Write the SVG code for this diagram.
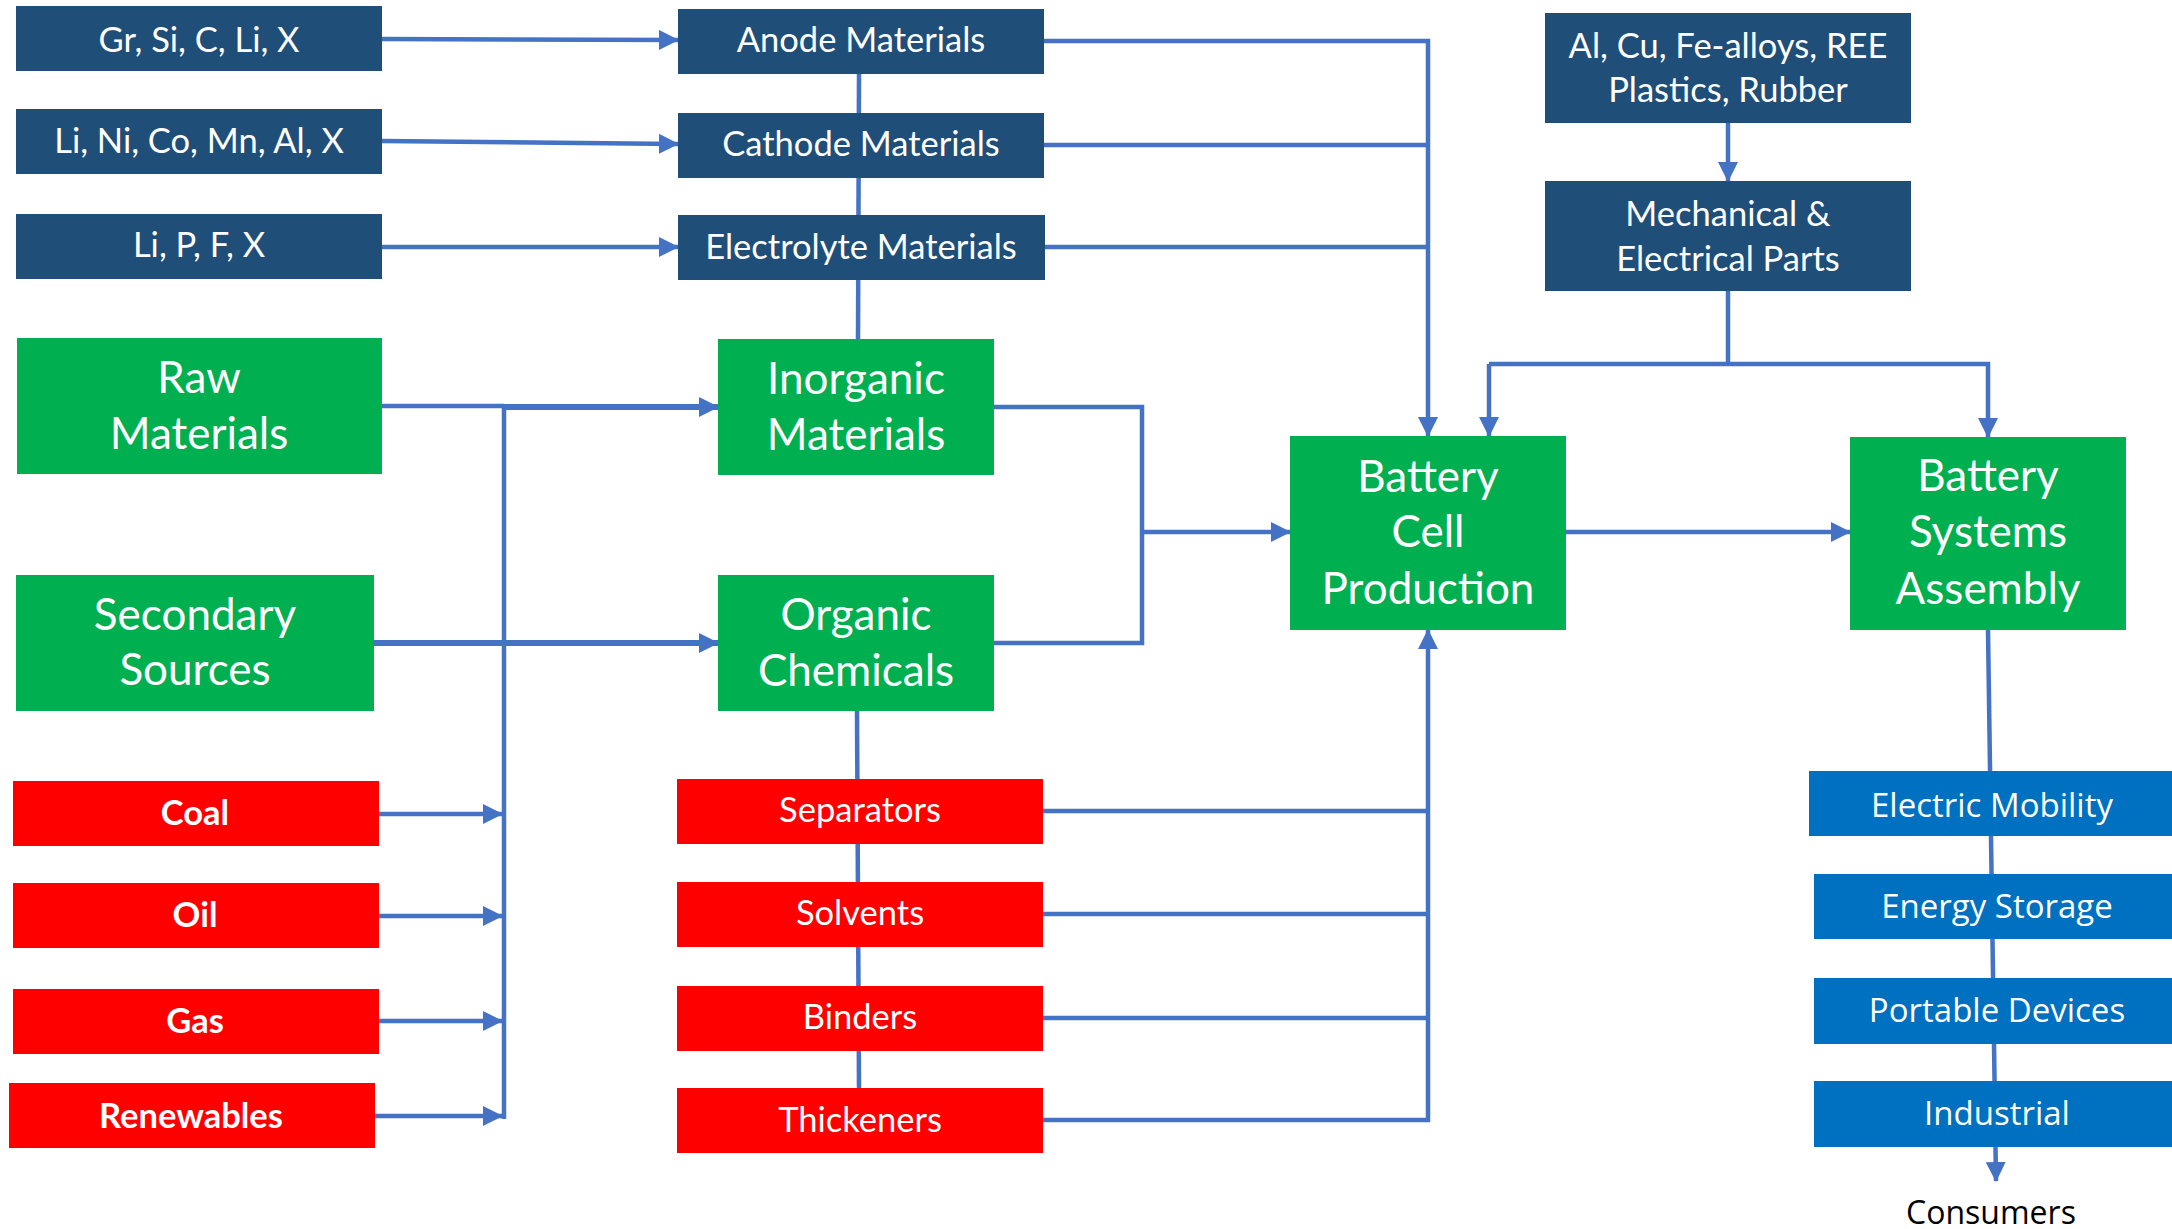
<svg xmlns="http://www.w3.org/2000/svg" width="2172" height="1229" viewBox="0 0 2172 1229">
  <style>
    .navy { fill: #1F4E79; }
    .green { fill: #00B050; }
    .red { fill: #FF0000; }
    .blue { fill: #0070C0; }
    text { fill: #FFFFFF; text-anchor: middle; font-family: Lato, "Open Sans", sans-serif; }
    .t36 { font-size: 34.5px; }
    .t46 { font-size: 44px; }
    .bold { font-weight: bold; }
    .seg { font-family: "Open Sans", "Noto Sans", sans-serif; font-size: 33px; }
    .dark { fill: #000000; font-size: 32px; }
    .wire { fill: none; stroke: #4472C4; stroke-width: 4.5; stroke-linejoin: miter; }
    .thick { stroke-width: 6; }
  </style>
  <defs>
    <marker id="arrow" markerUnits="userSpaceOnUse" viewBox="0 0 20 20" markerWidth="20" markerHeight="20" refX="19" refY="10" orient="auto">
      <path d="M0,0 L20,10 L0,20 Z" fill="#4472C4"/>
    </marker>
  </defs>

  <rect width="2172" height="1229" fill="#FFFFFF"/>

  <!-- connectors -->
  <g id="connectors">
    <!-- element feeds into material groups -->
    <path class="wire" d="M382,39 L678,40" marker-end="url(#arrow)"/>
    <path class="wire" d="M382,141 L678,144" marker-end="url(#arrow)"/>
    <path class="wire" d="M382,247 L678,247" marker-end="url(#arrow)"/>
    <!-- material stack spine -->
    <path class="wire" d="M859,74 L858,339"/>
    <path class="wire" d="M857,711 L859,1088"/>
    <!-- materials to cell production -->
    <path class="wire" d="M1044,41 L1428,41 L1428,436" marker-end="url(#arrow)"/>
    <path class="wire" d="M1044,145 L1428,145"/>
    <path class="wire" d="M1045,247 L1428,247"/>
    <path class="wire" d="M1043,811 L1428,811"/>
    <path class="wire" d="M1043,914 L1428,914"/>
    <path class="wire" d="M1043,1018 L1428,1018"/>
    <path class="wire" d="M1043,1120 L1428,1120 L1428,630" marker-end="url(#arrow)"/>
    <!-- source bus -->
    <path class="wire" d="M504,406 L504,1119"/>
    <path class="wire" d="M382,406 L504,406"/>
    <path class="wire thick" d="M504,407 L718,407" marker-end="url(#arrow)"/>
    <path class="wire thick" d="M374,643 L718,643" marker-end="url(#arrow)"/>
    <path class="wire" d="M379,814 L502,814" marker-end="url(#arrow)"/>
    <path class="wire" d="M379,916 L502,916" marker-end="url(#arrow)"/>
    <path class="wire" d="M379,1021 L502,1021" marker-end="url(#arrow)"/>
    <path class="wire" d="M375,1116 L502,1116" marker-end="url(#arrow)"/>
    <!-- inorganic / organic merge -->
    <path class="wire" d="M994,407 L1142,407 L1142,643 L994,643"/>
    <path class="wire" d="M1142,532 L1290,532" marker-end="url(#arrow)"/>
    <!-- parts supply -->
    <path class="wire" d="M1728,123 L1728,181" marker-end="url(#arrow)"/>
    <path class="wire" d="M1728,291 L1728,364"/>
    <path class="wire" d="M1489,364 L1988,364 L1988,437" marker-end="url(#arrow)"/>
    <path class="wire" d="M1489,364 L1489,436" marker-end="url(#arrow)"/>
    <!-- cell to system -->
    <path class="wire" d="M1566,532 L1850,532" marker-end="url(#arrow)"/>
    <!-- system to end uses -->
    <path class="wire" d="M1988,630 L1996,1181" marker-end="url(#arrow)"/>
  </g>

  <!-- element inputs -->
  <g id="n-anode-elements"><rect class="navy" x="16" y="6" width="366" height="65"/><text class="t36" x="199" y="52">Gr, Si, C, Li, X</text></g>
  <g id="n-cathode-elements"><rect class="navy" x="16" y="109" width="366" height="65"/><text class="t36" x="199" y="153">Li, Ni, Co, Mn, Al, X</text></g>
  <g id="n-electrolyte-elements"><rect class="navy" x="16" y="214" width="366" height="65"/><text class="t36" x="199" y="257">Li, P, F, X</text></g>

  <!-- material groups -->
  <g id="n-anode"><rect class="navy" x="678" y="9" width="366" height="65"/><text class="t36" x="861" y="52">Anode Materials</text></g>
  <g id="n-cathode"><rect class="navy" x="678" y="113" width="366" height="65"/><text class="t36" x="861" y="156">Cathode Materials</text></g>
  <g id="n-electrolyte"><rect class="navy" x="678" y="215" width="367" height="65"/><text class="t36" x="861" y="259">Electrolyte Materials</text></g>

  <!-- sources -->
  <g id="n-raw"><rect class="green" x="17" y="338" width="365" height="136"/><text class="t46" x="199" y="393">Raw</text><text class="t46" x="199" y="449">Materials</text></g>
  <g id="n-secondary"><rect class="green" x="16" y="575" width="358" height="136"/><text class="t46" x="195" y="630">Secondary</text><text class="t46" x="195" y="685">Sources</text></g>

  <g id="n-inorganic"><rect class="green" x="718" y="339" width="276" height="136"/><text class="t46" x="856" y="394">Inorganic</text><text class="t46" x="856" y="450">Materials</text></g>
  <g id="n-organic"><rect class="green" x="718" y="575" width="276" height="136"/><text class="t46" x="856" y="630">Organic</text><text class="t46" x="856" y="686">Chemicals</text></g>

  <!-- energy sources -->
  <g id="n-coal"><rect class="red" x="13" y="781" width="366" height="65"/><text class="t36 bold" x="195" y="825">Coal</text></g>
  <g id="n-oil"><rect class="red" x="13" y="883" width="366" height="65"/><text class="t36 bold" x="195" y="927">Oil</text></g>
  <g id="n-gas"><rect class="red" x="13" y="989" width="366" height="65"/><text class="t36 bold" x="195" y="1033">Gas</text></g>
  <g id="n-renewables"><rect class="red" x="9" y="1083" width="366" height="65"/><text class="t36 bold" x="191" y="1128">Renewables</text></g>

  <!-- organic products -->
  <g id="n-separators"><rect class="red" x="677" y="779" width="366" height="65"/><text class="t36" x="860" y="822">Separators</text></g>
  <g id="n-solvents"><rect class="red" x="677" y="882" width="366" height="65"/><text class="t36" x="860" y="925">Solvents</text></g>
  <g id="n-binders"><rect class="red" x="677" y="986" width="366" height="65"/><text class="t36" x="860" y="1029">Binders</text></g>
  <g id="n-thickeners"><rect class="red" x="677" y="1088" width="366" height="65"/><text class="t36" x="860" y="1132">Thickeners</text></g>

  <!-- production -->
  <g id="n-cell"><rect class="green" x="1290" y="436" width="276" height="194"/><text class="t46" x="1428" y="492">Battery</text><text class="t46" x="1428" y="547">Cell</text><text class="t46" x="1428" y="604">Production</text></g>
  <g id="n-systems"><rect class="green" x="1850" y="437" width="276" height="193"/><text class="t46" x="1988" y="491">Battery</text><text class="t46" x="1988" y="547">Systems</text><text class="t46" x="1988" y="604">Assembly</text></g>

  <!-- parts -->
  <g id="n-metals"><rect class="navy" x="1545" y="13" width="366" height="110"/><text class="t36" x="1728" y="58">Al, Cu, Fe-alloys, REE</text><text class="t36" x="1728" y="102">Plastics, Rubber</text></g>
  <g id="n-parts"><rect class="navy" x="1545" y="181" width="366" height="110"/><text class="t36" x="1728" y="226">Mechanical &amp;</text><text class="t36" x="1728" y="271">Electrical Parts</text></g>

  <!-- applications -->
  <g id="n-mobility"><rect class="blue" x="1809" y="771" width="366" height="65"/><text class="seg" x="1992" y="817">Electric Mobility</text></g>
  <g id="n-storage"><rect class="blue" x="1814" y="874" width="366" height="65"/><text class="seg" x="1997" y="918">Energy Storage</text></g>
  <g id="n-portable"><rect class="blue" x="1814" y="978" width="366" height="66"/><text class="seg" x="1997" y="1022">Portable Devices</text></g>
  <g id="n-industrial"><rect class="blue" x="1814" y="1081" width="366" height="66"/><text class="seg" x="1997" y="1125">Industrial</text></g>

  <g id="n-consumers"><text class="seg dark" x="1991" y="1224">Consumers</text></g>
</svg>
